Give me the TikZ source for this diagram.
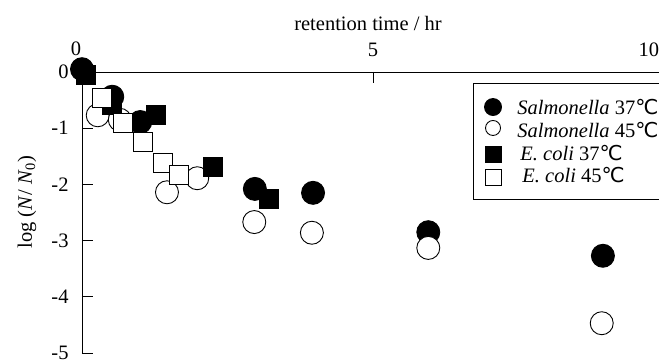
\documentclass[tikz,border=0pt]{standalone}
\usepackage{fontspec}
\setmainfont{Liberation Serif}
\newfontfamily\degfont{DejaVu Sans}
\newcommand{\degC}{{\degfont\char"2103}}
\tikzset{
  sal37/.style={circle,draw=black,fill=black,minimum size=23pt,inner sep=0pt},
  sal45/.style={circle,draw=black,fill=white,line width=0.9pt,minimum size=23pt,inner sep=0pt},
  eco37/.style={rectangle,draw=black,fill=black,minimum size=19pt,inner sep=0pt},
  eco45/.style={rectangle,draw=black,fill=white,line width=0.9pt,minimum size=19pt,inner sep=0pt},
  ticklab/.style={font=\fontsize{20.5}{23}\selectfont,inner sep=0pt}
}
\begin{document}
\begin{tikzpicture}[x=58.2pt,y=56.2pt,line width=0.9pt]
                \useasboundingbox (-1.4089,1.2811) rectangle (9.914,-5.142);
                \clip (-1.4089,1.2811) rectangle (9.914,-5.142);
                % axes
                \coordinate (O) at (0,0);
                \coordinate (Xend) at (10.2,0);
                \coordinate (Yend) at (0,-5);
                \draw (Xend) -- (O) -- (Yend);
                \foreach \t in {5,10}
                    \draw (\t,0) -- (\t,-0.196);
                \foreach \v in {-1,-2,-3,-4,-5}
                    \draw (0,\v) -- (0.19,\v);
                % tick labels
                \node[ticklab] (x0) at (-0.103,0.409) {0};
                \node[ticklab] (x5) at (5.0,0.39) {5};
                \node[ticklab] (x10) at (9.74,0.39) {10};
                \foreach \v in {0,-1,-2,-3,-4,-5}
                    \node[ticklab,anchor=east] (y\v) at (-0.223,\v) {\ifnum\v=0 0\else -\the\numexpr-\v\relax\fi};
                \node[ticklab] (xtitle) at (4.914,0.872) {retention time / hr};
                \node[ticklab,rotate=90] (ytitle) at (-0.945,-2.313) {log (\textit{N}/ \textit{N}\textsubscript{0})};
                % data
                \foreach \x/\y [count=\i] in {0/0.05,0.52/-0.44,1.0/-0.89,2.97/-2.08,3.97/-2.15,5.95/-2.85,8.95/-3.27}
                    \node[sal37] (s37-\i) at (\x,\y) {};
                \foreach \x/\y [count=\i] in {0.27/-0.77,0.65/-0.85,1.46/-2.14,1.98/-1.89,2.96/-2.67,3.95/-2.86,5.95/-3.13,8.93/-4.47}
                    \node[sal45] (s45-\i) at (\x,\y) {};
                \foreach \x/\y [count=\i] in {0.07/-0.06,0.52/-0.59,1.27/-0.77,2.25/-1.69,3.21/-2.26}
                    \node[eco37] (e37-\i) at (\x,\y) {};
                \foreach \x/\y [count=\i] in {0.34/-0.46,0.70/-0.91,1.05/-1.25,1.39/-1.62,1.67/-1.83}
                    \node[eco45] (e45-\i) at (\x,\y) {};
                % legend
                \draw[fill=white] (6.718,-0.196) rectangle (10.2,-2.26);
                \node[sal37,minimum size=17pt] (k1) at (7.062,-0.623) {};
                \node[sal45,minimum size=15pt] (k2) at (7.062,-0.996) {};
                \node[eco37,minimum size=16pt] (k3) at (7.062,-1.459) {};
                \node[eco45,minimum size=16pt] (k4) at (7.062,-1.868) {};
                \node[ticklab,anchor=west] (t1) at (7.474,-0.62) {\textit{Salmonella} 37\degC};
                \node[ticklab,anchor=west] (t2) at (7.474,-1.03) {\textit{Salmonella} 45\degC};
                \node[ticklab,anchor=west] (t3) at (7.526,-1.44) {\textit{E. coli} 37\degC};
                \node[ticklab,anchor=west] (t4) at (7.56,-1.83) {\textit{E. coli} 45\degC};
            \end{tikzpicture}
\end{document}
